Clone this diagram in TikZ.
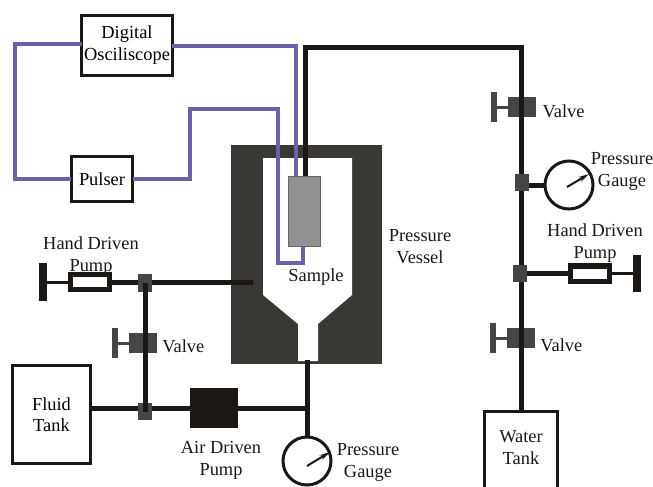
\documentclass[tikz,border=0pt]{standalone}
\usepackage{fontspec}
\setmainfont{Liberation Serif}
\usepackage{xcolor}
\usetikzlibrary{arrows.meta,positioning}
\definecolor{vesseldark}{RGB}{58, 56, 52}
\definecolor{pipeblack}{RGB}{26, 23, 20}
\definecolor{valvegray}{RGB}{70, 69, 70}
\definecolor{samplegray}{RGB}{145, 145, 145}
\definecolor{wireblue}{RGB}{104, 98, 168}

\begin{document}
\begin{tikzpicture}[
    x=0.75pt, y=-0.75pt,
    every node/.style={inner sep=0pt, outer sep=0pt, font=\fontsize{13.8}{16.5}\selectfont},
    box/.style={rectangle, draw=pipeblack, line width=2.25pt, fill=white, align=center},
    label/.style={align=center, text=pipeblack},
    junction/.style={rectangle, fill=valvegray, minimum width=10.5pt, minimum height=13pt},
    valve/.style={rectangle, fill=valvegray, minimum width=21pt, minimum height=15pt},
    valvestem/.style={valvegray, line width=2.25pt},
    valvehandle/.style={rectangle, fill=valvegray, minimum width=5pt, minimum height=22pt},
    pumpbody/.style={rectangle, draw=pipeblack, line width=4pt, fill=white, minimum width=29.5pt, minimum height=11.5pt},
    pumphandle/.style={rectangle, fill=pipeblack, minimum width=6pt, minimum height=28pt},
    gauge/.style={circle, draw=pipeblack, line width=2.25pt, fill=white, minimum size=36pt},
    pipe/.style={pipeblack, line width=3.75pt},
    thinpipe/.style={pipeblack, line width=2.25pt},
    wire/.style={wireblue, line width=2.6pt},
    needle/.style={pipeblack, line width=1.5pt, -{Stealth[length=8pt,width=4pt]}}
]
    \useasboundingbox (0,0) rectangle (653,486);

    % pressure vessel
    \fill[vesseldark] (231,145) rectangle (382,364);
    \fill[white] (263,158) -- (352,158) -- (352,295) -- (318,324) -- (318,361) -- (298,361) -- (298,324) -- (263,295) -- cycle;
    \node[rectangle, fill=samplegray, draw=black!60, line width=0.75pt, minimum width=24pt, minimum height=52.5pt] (sample) at (304.5,211.5) {};
    \coordinate (vesselin) at (253,282);
    \coordinate (vesselout) at (307,360);
    \coordinate (sampletopA) at (296,176);
    \coordinate (sampletopB) at (305,176);
    \coordinate (samplebot) at (303,247);

    % instruments
    \node[box, minimum width=68pt, minimum height=45pt] (scope) at (127,45) {Digital\\Osciliscope};
    \node[box, minimum width=46pt, minimum height=34pt] (pulser) at (102,179) {Pulser};
    \node[box, minimum width=58pt, minimum height=73pt] (fluid) at (51.5,414.5) {Fluid\\[-0.4pt]Tank};
    \node[box, minimum width=55pt, minimum height=60pt] (water) at (521,451) {};
    \node[rectangle, fill=pipeblack, minimum width=36pt, minimum height=30pt] (airpump) at (214,408) {};

    % signal wires
    \draw[wire] (scope.east |- 0,46) -| (sampletopA);
    \draw[wire] (scope.west |- 0,44) -| (15,179) -- (pulser.west);
    \draw[wire] (pulser.east) -| (190,109) -| (278,263) -| (samplebot);

    % water side valves
    \node[valve] (valveA) at (522,107) {};
    \node[valvehandle, left=8pt of valveA] (handleA) {};
    \node[valve] (valveB) at (521,338) {};
    \node[valvehandle, left=8pt of valveB] (handleB) {};
    \draw[valvestem] (handleA) -- (valveA);
    \draw[valvestem] (handleB) -- (valveB);
    \draw[pipe] (sampletopB) -- (305,47) -| (water.north);
    \node[junction] (tapA) at (522,182.5) {};
    \node[junction] (tapB) at (520,273.5) {};

    % water side gauge and hand pump
    \node[gauge] (gaugeA) at (569,185) {};
    \coordinate (needleA) at (589,174);
    \draw[pipe] (tapA.east |- gaugeA) -- (gaugeA);
    \draw[needle] (567,187) -- (needleA);
    \node[pumpbody] (pumpA) at (590,273.5) {};
    \node[pumphandle] (hpA) at (637,273.5) {};
    \draw[pipe] (tapB) -- (pumpA);
    \draw[thinpipe] (pumpA) -- (hpA);

    % oil side
    \node[pumpbody] (pumpB) at (90,282) {};
    \node[pumphandle] (hpB) at (43,282) {};
    \draw[thinpipe] (hpB) -- (pumpB);
    \draw[pipe] (pumpB) -- (vesselin);
    \node[junction] (tapC) at (145,283) {};
    \draw[pipe] (fluid.east |- airpump) -- (airpump);
    \node[junction] (tapD) at (145,411.5) {};
    \node[valve] (valveC) at (143,343) {};
    \node[valvehandle, left=8pt of valveC] (handleC) {};
    \draw[valvestem] (handleC) -- (valveC);
    \draw[pipe] (tapC.center) -- (tapD.center);
    \node[gauge] (gaugeB) at (307,461) {};
    \coordinate (needleB) at (330,452);
    \draw[pipe] (vesselout) -- (gaugeB);
    \draw[pipe] (airpump) -- (307,408);
    \draw[needle] (307,466) -- (needleB);

    % labels
    \node[label] (lblpumpB) at (91,256.5) {Hand Driven\\Pump};
    \node[label, right=4pt of valveC, yshift=-2.25pt] (lblvalveC) {Valve};
    \node[label] (lblair) at (221,460.5) {Air Driven\\Pump};
    \node[label] (lblgaugeB) at (368,462.5) {Pressure\\Gauge};
    \node[label] (lblvessel) at (420,247) {Pressure\\Vessel};
    \node[label] (lblsample) at (316,277.5) {Sample};
    \node[label, right=5pt of valveA, yshift=-3pt] (lblvalveA) {Valve};
    \node[label] (lblgaugeA) at (622,171.5) {Pressure\\Gauge};
    \node[label] (lblpumpA) at (595,243) {Hand Driven\\Pump};
    \node[label, right=4pt of valveB, yshift=-5.25pt] (lblvalveB) {Valve};
    \node[label] (lblwater) at (521,448) {Water\\Tank};
\end{tikzpicture}
\end{document}
